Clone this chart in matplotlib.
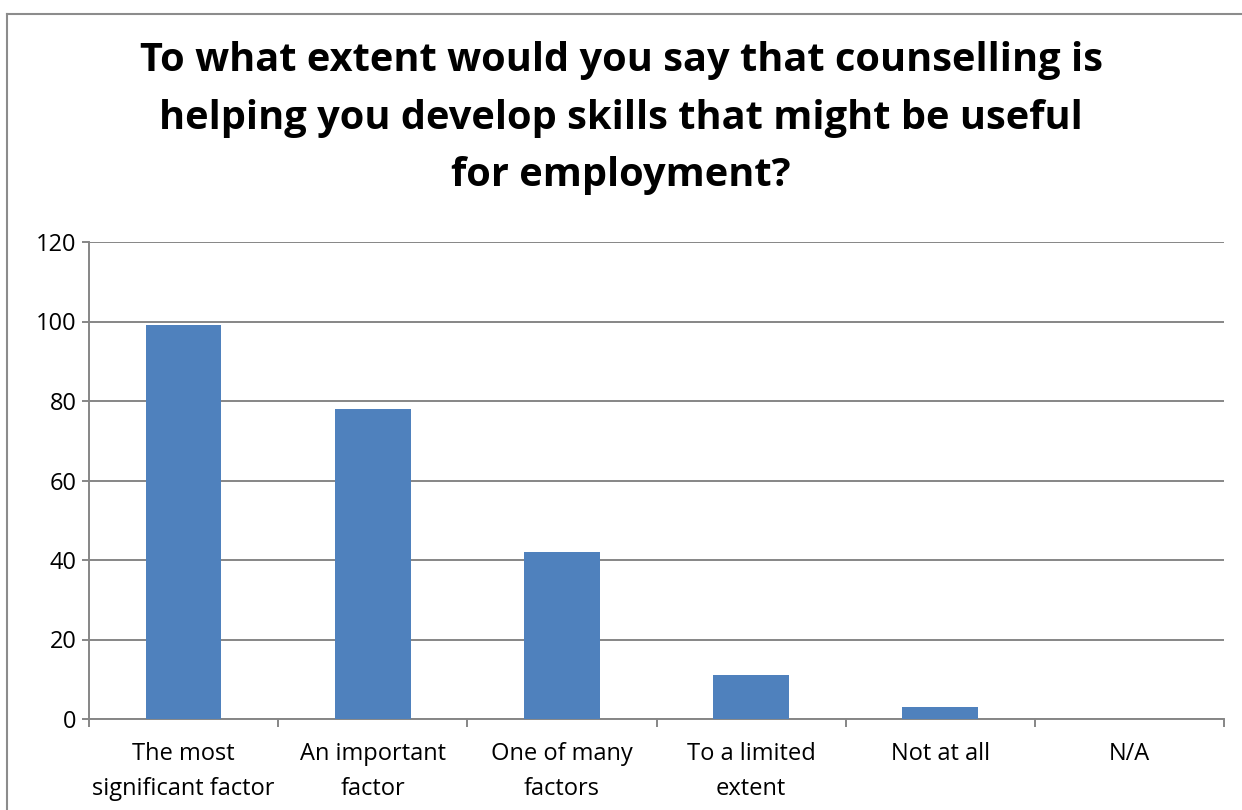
import matplotlib
matplotlib.use("Agg")
import matplotlib.pyplot as plt
from matplotlib.lines import Line2D

categories = ["The most\nsignificant factor", "An important\nfactor", "One of many\nfactors",
              "To a limited\nextent", "Not at all", "N/A"]
responses = [99, 78, 42, 11, 3, 0]
y_ticks = [0, 20, 40, 60, 80, 100, 120]

title = ("To what extent would you say that counselling is\n"
         "helping you develop skills that might be useful\n"
         "for employment?")

plt.rcParams['font.family'] = ['Open Sans', 'DejaVu Sans']

W, H = 1242, 810
fig = plt.figure(figsize=(W / 100, H / 100), dpi=100)

# chart border, only the left and top edges fall inside the image
border = dict(transform=fig.transFigure, color="#8c8c8c", linewidth=1.5)
fig.lines.append(Line2D([7 / W, 7 / W], [0, 1 - 14 / H], **border))
fig.lines.append(Line2D([7 / W, 1], [1 - 14 / H, 1 - 14 / H], **border))

ax = fig.add_axes([89 / W, 1 - 719 / H, (1224 - 89) / W, (719 - 242) / H])
x = range(len(categories))
ax.bar(x, responses, width=0.4, color="#4f81bd", zorder=3)

ax.set_xlim(-0.5, len(categories) - 0.5)
ax.set_ylim(0, 120)
ax.set_yticks(y_ticks)
ax.set_yticklabels([str(v) for v in y_ticks], fontsize=17)
ax.yaxis.grid(True, color="#868686", linewidth=1.4, zorder=0)

ax.set_xticks([i - 0.5 for i in range(len(categories) + 1)], minor=False)
ax.set_xticklabels([])
ax.set_xticks(list(x), minor=True)
ax.set_xticklabels(categories, minor=True, fontsize=17, linespacing=1.62)
ax.tick_params(axis="x", which="minor", length=0, pad=16.5)
ax.tick_params(axis="x", which="major", length=6, color="#868686", width=1.4)
ax.tick_params(axis="y", length=5, color="#868686", width=1.4, pad=4)

for side in ["top", "right"]:
    ax.spines[side].set_visible(False)
for side in ["left", "bottom"]:
    ax.spines[side].set_color("#868686")
    ax.spines[side].set_linewidth(1.4)

fig.text(0.5, 1 - 118 / H, title, ha="center", va="center", fontsize=28.6,
         fontweight="bold", linespacing=1.63)

fig.savefig("out.png", dpi=100)
